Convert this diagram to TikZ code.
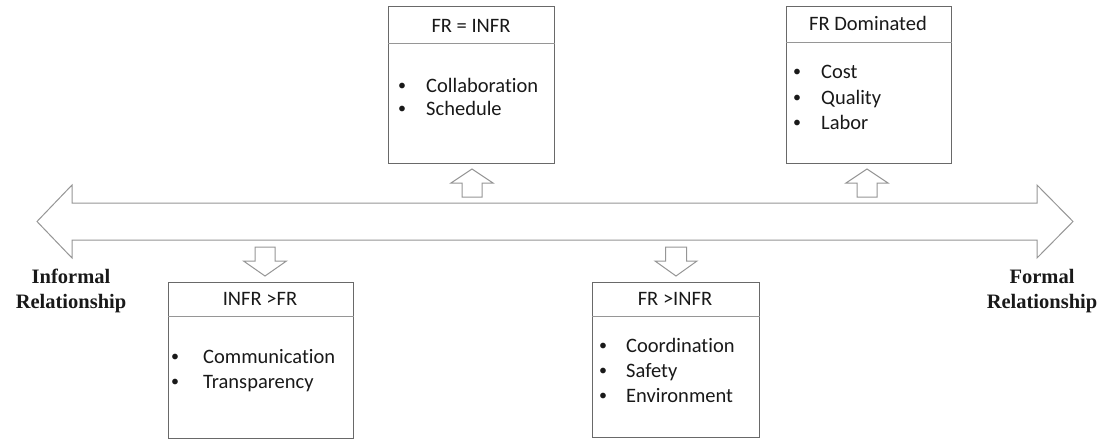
\documentclass[tikz,border=0pt]{standalone}
\usepackage{fontspec}
\setmainfont{Carlito}[Ligatures=NoCommon]
\newfontfamily\lblfont{Liberation Serif}
\definecolor{boxgray}{RGB}{105,105,105}
\definecolor{hdrgray}{RGB}{150,150,150}
\definecolor{arrgray}{RGB}{150,150,150}
\definecolor{txtc}{RGB}{25,25,25}
\newcommand\blkarrow[6]{% cx, half head, half shaft, y tail, y base, y tip
  \draw[arrline] (#1-#3,#4) -- (#1+#3,#4) -- (#1+#3,#5) -- (#1+#2,#5) -- (#1,#6)
    -- (#1-#2,#5) -- (#1-#3,#5) -- cycle;}
\newcommand\bul{\raisebox{1.2pt}{\fontsize{16}{16}\selectfont\textbullet}}
\begin{document}
\begin{tikzpicture}[x=1pt,y=-1pt,
  box/.style={draw=boxgray, line width=0.9pt, inner sep=0pt, anchor=north west, fill=white},
  hdr/.style={draw=hdrgray, line width=0.8pt},
  arrline/.style={draw=arrgray, line width=1pt, line join=miter, fill=white},
  txt/.style={font=\fontsize{20.5}{24}\selectfont, text=txtc, inner sep=0pt},
  lbl/.style={font=\lblfont\bfseries\fontsize{20.5}{26}\selectfont, text=txtc, inner sep=0pt, anchor=base}]
\useasboundingbox (0,0) rectangle (1105,439);
% big double arrow
\draw[arrline] (37,221.5) -- (72,185) -- (72,203) -- (1037,203) -- (1037,185)
  -- (1073,221.5) -- (1037,258) -- (1037,240) -- (72,240) -- (72,258) -- cycle;
% small block arrows
\blkarrow{472}{21}{10}{197}{183}{169}
\blkarrow{867}{21}{10}{197}{183}{169}
\blkarrow{265}{21.5}{10}{247}{261}{276}
\blkarrow{676}{21}{10.5}{247}{261}{276}
% box 1 : FR = INFR
\node[box, minimum width=166pt, minimum height=157pt] (b1) at (388,6) {};
\draw[hdr] (b1.west |- 0,43) -- (b1.east |- 0,43);
\node[txt, anchor=base] (h1) at (471,32) {FR = INFR};
\node[txt, anchor=base] (b1a) at (402,92) {\bul};
\node[txt, anchor=base west] (t1a) at (426,92) {Collaboration};
\node[txt, anchor=base] (b1b) at (402,115) {\bul};
\node[txt, anchor=base west] (t1b) at (426,115) {Schedule};
% box 2 : FR Dominated
\node[box, minimum width=165pt, minimum height=157pt] (b2) at (786,6) {};
\draw[hdr] (b2.west |- 0,42) -- (b2.east |- 0,42);
\node[txt, anchor=base] (h2) at (868,30) {FR Dominated};
\node[txt, anchor=base] (b2a) at (797,78) {\bul};
\node[txt, anchor=base west] (t2a) at (821,78) {Cost};
\node[txt, anchor=base] (b2b) at (797,104) {\bul};
\node[txt, anchor=base west] (t2b) at (821,104) {Quality};
\node[txt, anchor=base] (b2c) at (797,129) {\bul};
\node[txt, anchor=base west] (t2c) at (821,129) {Labor};
% box 3 : INFR >FR
\node[box, minimum width=185pt, minimum height=156pt] (b3) at (168,282) {};
\draw[hdr] (b3.west |- 0,316) -- (b3.east |- 0,316);
\node[txt, anchor=base] (h3) at (260,305) {INFR >FR};
\node[txt, anchor=base] (b3a) at (175,363) {\bul};
\node[txt, anchor=base west] (t3a) at (203,363) {Communication};
\node[txt, anchor=base] (b3b) at (175,388) {\bul};
\node[txt, anchor=base west] (t3b) at (203,388) {Transparency};
% box 4 : FR >INFR
\node[box, minimum width=167pt, minimum height=155pt] (b4) at (592,282) {};
\draw[hdr] (b4.west |- 0,316) -- (b4.east |- 0,316);
\node[txt, anchor=base] (h4) at (675,305) {FR >INFR};
\node[txt, anchor=base] (b4a) at (603,352) {\bul};
\node[txt, anchor=base west] (t4a) at (626,352) {Coordination};
\node[txt, anchor=base] (b4b) at (603,377) {\bul};
\node[txt, anchor=base west] (t4b) at (626,377) {Safety};
\node[txt, anchor=base] (b4c) at (603,402) {\bul};
\node[txt, anchor=base west] (t4c) at (626,402) {Environment};
% side labels
\node[lbl] (inf1) at (71,283) {Informal};
\node[lbl] (inf2) at (71,308) {Relationship};
\node[lbl] (for1) at (1042,283) {Formal};
\node[lbl] (for2) at (1042,308) {Relationship};
\end{tikzpicture}
\end{document}
